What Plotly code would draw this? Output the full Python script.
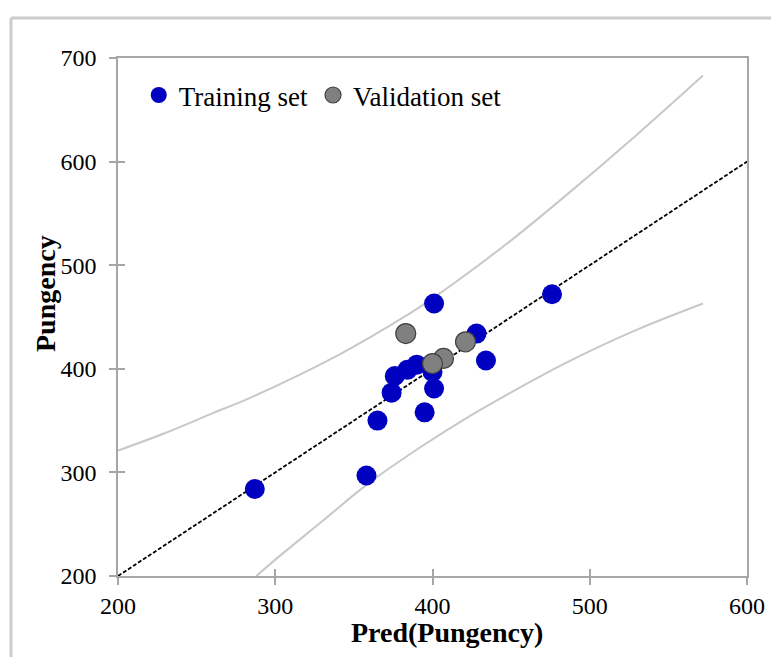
import plotly.graph_objects as go

# ---- data ----
train_pred = [287, 358, 401, 428, 434, 390, 384, 376, 400, 401, 374, 395, 365, 476]
train_obs = [284, 297, 463, 434, 408, 404, 399, 393, 397, 381, 377, 358, 350, 472]
valid_pred = [383, 421, 407, 400]
valid_obs = [434, 426, 410, 405]

upper_x = [200, 230, 260, 284, 341, 383, 401, 415, 450, 483, 530, 572]
upper_y = [321, 338, 357, 372, 414, 451, 469, 484, 524, 565, 626, 683]
lower_x = [288, 301, 330, 358, 392, 420, 445, 470, 500, 532, 572]
lower_y = [200, 217, 253, 288, 324, 351, 373, 394, 417, 439, 463]

ideal_x = [200, 600]
ideal_y = [200, 600]

x_ticks = [200, 300, 400, 500, 600]
y_ticks = [200, 300, 400, 500, 600, 700]

FONT = "Liberation Serif"
W, H = 771, 657
ML, MR, MT, MB = 118, 24, 58, 81
pw, ph = W - ML - MR, H - MT - MB

fig = go.Figure()
fig.add_trace(go.Scatter(x=upper_x, y=upper_y, mode="lines", line=dict(color="#c8c8c8", width=2, shape="spline"),
                         showlegend=False, hoverinfo="skip"))
fig.add_trace(go.Scatter(x=lower_x, y=lower_y, mode="lines", line=dict(color="#c8c8c8", width=2, shape="spline"),
                         showlegend=False, hoverinfo="skip"))
fig.add_trace(go.Scatter(x=ideal_x, y=ideal_y, mode="lines", line=dict(color="#000000", width=1.8, dash="4px,2px"),
                         showlegend=False, hoverinfo="skip"))
fig.add_trace(go.Scatter(x=train_pred, y=train_obs, mode="markers", name="Training set",
                         marker=dict(color="#0000c0", size=20, line=dict(width=0))))
fig.add_trace(go.Scatter(x=valid_pred, y=valid_obs, mode="markers", name="Validation set",
                         marker=dict(color="#808080", size=20, line=dict(color="#404040", width=1.2))))
# empty trace to activate overlay axes (inner half of cross tick marks)
fig.add_trace(go.Scatter(x=[None], y=[None], xaxis="x2", yaxis="y2", showlegend=False, hoverinfo="skip"))

axis_common = dict(showgrid=False, zeroline=False, linecolor="#a6a6a6", linewidth=1.5, automargin=False,
                   ticks="outside", ticklen=7, tickcolor="#a6a6a6", tickwidth=1.5,
                   tickfont=dict(family=FONT, size=24, color="#000000"))
overlay_common = dict(showgrid=False, zeroline=False, showline=False, showticklabels=False, automargin=False,
                      ticks="inside", ticklen=7, tickcolor="#a6a6a6", tickwidth=1.5)

fig.update_layout(
    width=W, height=H,
    margin=dict(l=ML, r=MR, t=MT, b=MB, autoexpand=False),
    paper_bgcolor="white", plot_bgcolor="white",
    xaxis=dict(range=[200, 600], tickvals=x_ticks, showline=True, mirror=True,
               ticklabelstandoff=0, **axis_common),
    yaxis=dict(range=[200, 700], tickvals=y_ticks, showline=True, mirror=True,
               ticklabelstandoff=8, **axis_common),
    xaxis2=dict(range=[200, 600], tickvals=x_ticks, overlaying="x", anchor="y2", side="bottom", **overlay_common),
    yaxis2=dict(range=[200, 700], tickvals=y_ticks, overlaying="y", anchor="x2", side="left", **overlay_common),
    legend=dict(orientation="h", x=0.033, y=0.975, xanchor="left", yanchor="top",
                bgcolor="rgba(0,0,0,0)", font=dict(family=FONT, size=27, color="#000000"),
                itemwidth=30, tracegroupgap=0),
    annotations=[
        dict(text="<b>Pred(Pungency)</b>", xref="paper", yref="paper",
             x=(447 - ML) / pw, y=(MT + ph - 632) / ph, xanchor="center", yanchor="middle",
             showarrow=False, font=dict(family=FONT, size=28, color="#000000")),
        dict(text="<b>Pungency</b>", xref="paper", yref="paper", textangle=-90,
             x=(45 - ML) / pw, y=(MT + ph - 294) / ph, xanchor="center", yanchor="middle",
             showarrow=False, font=dict(family=FONT, size=28, color="#000000")),
    ],
    shapes=[
        dict(type="line", xref="paper", yref="paper", x0=(11 - ML) / pw, x1=(W + 5 - ML) / pw,
             y0=(MT + ph - 18) / ph, y1=(MT + ph - 18) / ph, line=dict(color="#cccccc", width=3)),
        dict(type="line", xref="paper", yref="paper", x0=(11 - ML) / pw, x1=(11 - ML) / pw,
             y0=(MT + ph - 18) / ph, y1=(MT + ph - H - 5) / ph, line=dict(color="#cccccc", width=3)),
    ],
)

fig.write_html("out.html", config={"displayModeBar": False},
               post_script="document.body.style.margin='0px';")
